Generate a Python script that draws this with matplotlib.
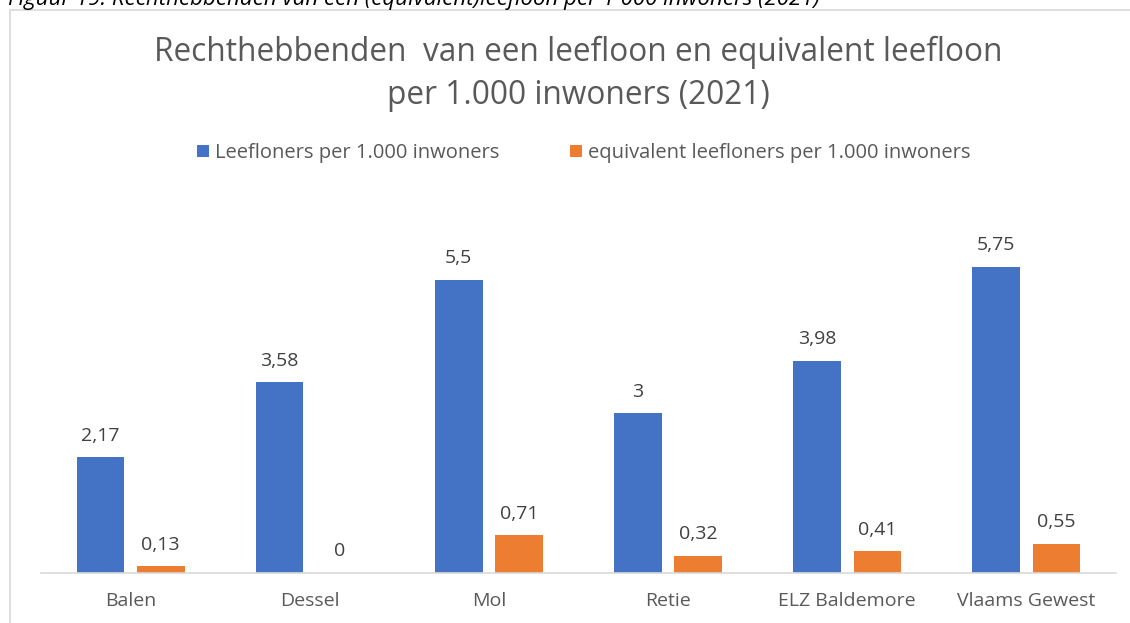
import matplotlib.pyplot as plt
import numpy as np
from matplotlib.patches import Rectangle

categories = ["Balen", "Dessel", "Mol", "Retie", "ELZ Baldemore", "Vlaams Gewest"]
leefloners = [2.17, 3.58, 5.5, 3.0, 3.98, 5.75]
equivalent = [0.13, 0.0, 0.71, 0.32, 0.41, 0.55]
series_names = ["Leefloners per 1.000 inwoners", "equivalent leefloners per 1.000 inwoners"]
colors = ["#4472C4", "#ED7D31"]

plt.rcParams["font.family"] = ["Open Sans", "DejaVu Sans"]

W, H = 1130, 623
fig = plt.figure(figsize=(W / 100, H / 100), dpi=100)

# caption, cut off at the top like in the screenshot
fig.text(8 / W, 1 - 5 / H, "Figuur 19: Rechthebbenden van een (equivalent)leefloon per 1 000 inwoners (2021)",
         fontsize=16, style="italic", color="black", ha="left", va="baseline")

# chart border
fig.add_artist(Rectangle((10 / W, -0.1), 1.2, 1 - 10 / H + 0.1, transform=fig.transFigure,
                         facecolor="white", edgecolor="#D9D9D9", linewidth=1.2, zorder=-1))

ax = fig.add_axes([41 / W, (H - 573) / H, 1075 / W, 373 / H])
ax.set_facecolor("none")
x = np.arange(len(categories))
bw = 0.266
off = 0.168
b1 = ax.bar(x - off, leefloners, bw, color=colors[0], label=series_names[0])
b2 = ax.bar(x + off, equivalent, bw, color=colors[1], label=series_names[1])

for bars, vals in [(b1, leefloners), (b2, equivalent)]:
    for rect, v in zip(bars, vals):
        txt = f"{v:g}".replace(".", ",")
        ax.annotate(txt, (rect.get_x() + rect.get_width() / 2, rect.get_height()),
                    xytext=(0, 9), textcoords="offset points", ha="center", va="bottom",
                    fontsize=14, color="#404040")

ax.set_xlim(-0.5, len(categories) - 0.5)
ax.set_ylim(0, 7)
ax.set_xticks(x)
ax.set_xticklabels(categories, fontsize=14, color="#595959")
ax.tick_params(axis="x", length=0, pad=14)
ax.set_yticks([])
for s in ["top", "right", "left"]:
    ax.spines[s].set_visible(False)
ax.spines["bottom"].set_color("#D9D9D9")
ax.spines["bottom"].set_linewidth(1.2)

fig.text(578 / W, 1 - 52 / H, "Rechthebbenden  van een leefloon en equivalent leefloon",
         fontsize=22.8, color="#595959", ha="center", va="center")
fig.text(578 / W, 1 - 95 / H, "per 1.000 inwoners (2021)",
         fontsize=22.8, color="#595959", ha="center", va="center")

fig.legend(handles=[b1, b2], loc="center", bbox_to_anchor=(584 / W, 1 - 153 / H), ncol=2,
           frameon=False, fontsize=14.5, labelcolor="#595959", handlelength=0.6, handleheight=0.6,
           columnspacing=3.5, handletextpad=0.3)

fig.savefig("out.png", dpi=100)
